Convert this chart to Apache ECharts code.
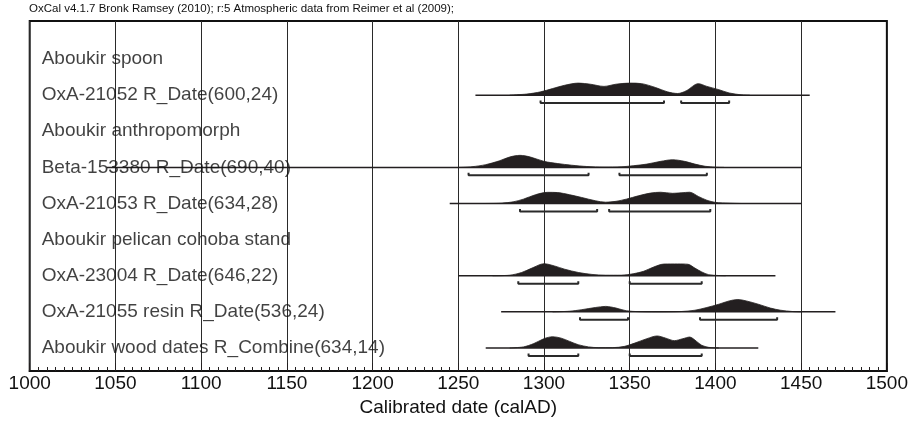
<!DOCTYPE html>
<html>
<head>
<meta charset="utf-8">
<script src="https://cdn.jsdelivr.net/npm/echarts@6/dist/echarts.min.js"></script>
<style>
  html, body { margin: 0; padding: 0; background: #fff; }
  #chart { width: 911px; height: 426px; }
</style>
</head>
<body>
<div id="chart"></div>
<script>
// rows, top to bottom
const rowLabels = [
    'Aboukir spoon',
    'OxA-21052 R_Date(600,24)',
    'Aboukir anthropomorph',
    'Beta-153380 R_Date(690,40)',
    'OxA-21053 R_Date(634,28)',
    'Aboukir pelican cohoba stand',
    'OxA-23004 R_Date(646,22)',
    'OxA-21055 resin R_Date(536,24)',
    'Aboukir wood dates R_Combine(634,14)'
];

// plotted range of each row (calAD), null = header row
const rangeStart = [null, 1260, null, 1045, 1245, null, 1250, 1275, 1266];
const rangeEnd   = [null, 1455, null, 1450, 1450, null, 1435, 1470, 1425];

// 95.4% ranges (calAD)
const ranges = [
    [],
    [[1298, 1370], [1380, 1408]],
    [],
    [[1256, 1326], [1344, 1395]],
    [[1286, 1331], [1338, 1397]],
    [],
    [[1285, 1320], [1350, 1392]],
    [[1321, 1349], [1391, 1436]],
    [[1291, 1320], [1350, 1392]]
];

// probability distributions [calAD, relative height]
const oxa21052 = [[1280,0],[1290,1],[1298,3],[1305,6],[1312,9],[1320,11],[1327,10],[1335,8],[1342,10],
    [1350,11],[1357,10.5],[1365,7],[1372,3],[1378,1.5],[1383,4],[1390,10.5],[1395,8],[1402,5],[1408,2],[1415,0.3],[1420,0]];
const beta153380 = [[1250,0],[1258,0.6],[1266,2.5],[1274,6],[1280,9.5],[1286,11],[1292,9.5],[1300,5.5],[1308,3.5],
    [1316,2],[1325,0.8],[1335,0.3],[1345,0.5],[1352,1.5],[1360,3],[1368,5.5],[1375,7],[1382,5.5],[1388,3],[1394,1],[1400,0.2],[1405,0]];
const oxa21053 = [[1265,0],[1275,0.3],[1282,1.5],[1288,4],[1295,8],[1302,10.2],[1308,10],[1315,8],[1322,5.5],[1330,2.5],
    [1336,1.2],[1342,2],[1348,4],[1355,7],[1362,9.5],[1368,10.3],[1375,9.3],[1380,9.8],[1385,10.3],[1390,6.5],[1395,3],[1400,1],[1408,0.3],[1415,0]];
const oxa23004 = [[1270,0],[1280,0.5],[1287,3],[1293,7],[1300,11],[1306,9],[1312,6],[1320,3],[1328,1.2],[1336,0.5],
    [1345,0.5],[1352,1.8],[1358,4],[1364,8],[1370,10.7],[1378,10.8],[1384,10.5],[1388,7],[1392,3.5],[1396,1],[1402,0.2],[1406,0]];
const oxa21055 = [[1305,0],[1315,0.6],[1322,2],[1330,4],[1336,5],[1342,3.5],[1348,1],[1355,0.2],[1365,0],[1380,0.3],
    [1388,1.5],[1395,4],[1402,7],[1408,10],[1413,11.3],[1418,10],[1425,7],[1432,3.5],[1438,1.5],[1445,0.3],[1450,0]];
const combine = [[1280,0],[1288,1],[1294,4],[1300,8.5],[1305,10.3],[1310,9],[1315,6],[1320,3],[1326,1],[1332,0.3],
    [1340,0.3],[1347,1.5],[1353,4.5],[1360,8.5],[1366,11],[1371,9],[1376,6.7],[1381,8.5],[1385,10],[1389,6],[1392,2.5],[1396,0.6],[1402,0]];

const distributions = [null, oxa21052, null, beta153380, oxa21053, null, oxa23004, oxa21055, combine];

const ROW_PX = 33;   // height units per row
const INK = '#231f20';
const TEXT = '#111';
const FONT = 'Liberation Sans, Arial, sans-serif';

let chart = echarts.init(document.getElementById('chart'));
let series = [];

rowLabels.forEach(function (name, r) {
    if (rangeStart[r] !== null) {
        series.push({
            type: 'line',
            data: [[rangeStart[r], r], [rangeEnd[r], r]],
            showSymbol: false,
            lineStyle: { color: INK, width: 1.5 },
            z: 2,
            silent: true
        });
    }
    if (distributions[r]) {
        series.push({
            type: 'line',
            data: distributions[r].map(function (p) { return [p[0], r - p[1] / ROW_PX]; }),
            smooth: 0.3,
            showSymbol: false,
            lineStyle: { color: INK, width: 0.8 },
            areaStyle: { origin: r, color: INK, opacity: 1 },
            z: 3,
            silent: true
        });
    }
    ranges[r].forEach(function (b) {
        series.push({
            type: 'line',
            data: [[b[0], r + 0.15], [b[0], r + 0.22], [b[1], r + 0.22], [b[1], r + 0.15]],
            showSymbol: false,
            lineStyle: { color: '#2a2a2a', width: 2 },
            z: 2,
            silent: true
        });
    });
});

// row names
series.push({
    type: 'scatter',
    data: rowLabels.map(function (name, r) { return { name: name, value: [1000, r] }; }),
    symbolSize: 0,
    label: {
        show: true,
        position: 'right',
        distance: 12,
        formatter: '{b}',
        fontSize: 19,
        fontFamily: FONT,
        color: TEXT
    },
    z: 4,
    silent: true
});

chart.setOption({
    animation: false,
    graphic: [{
        type: 'text',
        left: 29,
        top: 3,
        style: {
            text: 'OxCal v4.1.7 Bronk Ramsey (2010); r:5 Atmospheric data from Reimer et al (2009);',
            fontSize: 11.5,
            fontFamily: FONT,
            fill: TEXT
        }
    }],
    grid: {
        left: 29.7,
        right: 21.3,
        top: 21,
        bottom: 55,
        show: true,
        borderColor: '#111',
        borderWidth: 2
    },
    xAxis: {
        type: 'value',
        min: 1000,
        max: 1500,
        interval: 50,
        name: 'Calibrated date (calAD)',
        nameLocation: 'middle',
        nameGap: 27,
        nameTextStyle: { fontSize: 19, fontFamily: FONT, color: TEXT },
        axisLine: { show: true, onZero: false, lineStyle: { color: '#111', width: 2 } },
        axisTick: { show: true, inside: true, length: 8, lineStyle: { color: INK, width: 1 } },
        minorTick: { show: true, splitNumber: 10, length: 4, lineStyle: { color: INK, width: 1 } },
        axisLabel: {
            fontSize: 19, fontFamily: FONT, color: TEXT, margin: 3,
            formatter: function (v) { return String(v); }
        },
        splitLine: { show: true, lineStyle: { color: '#2a2a2a', width: 1 } }
    },
    yAxis: {
        type: 'value',
        inverse: true,
        min: -(59 - 21) / 36.1,
        max: 8 + (371 - 348) / 36.1,
        show: false,
        splitLine: { show: false }
    },
    series: series
});
</script>
</body>
</html>
